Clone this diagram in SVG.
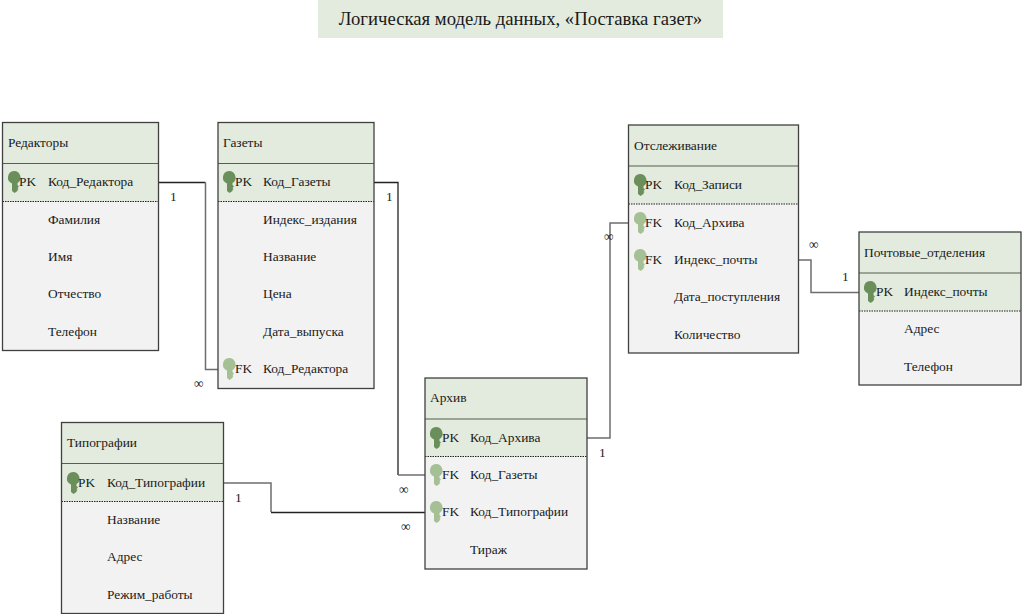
<svg xmlns="http://www.w3.org/2000/svg" width="1022" height="614" viewBox="0 0 1022 614">
<style>
text{font-family:"Liberation Serif","Times New Roman",serif;font-size:13.4px;fill:#1a1a1a}
.title{font-size:18.700px;text-anchor:middle}
.sym{font-size:13.500px}
.body{fill:#f2f2f2}
.band{fill:#e2ebdd}
.frame{fill:none;stroke:#404040;stroke-width:1.300}
.hl{stroke:#55604f;stroke-width:1.200}
.hl2{stroke:#b4bcae;stroke-width:1.200}
.dash{stroke:#222;stroke-width:1;stroke-dasharray:1.500 1}
.c{fill:none;stroke:#222;stroke-width:1.300}
.c2{fill:none;stroke:#6e6e6e;stroke-width:1.500}
.pk{fill:#6b8f5a}
.fk{fill:#a5c094}
</style>
<defs>
<path id="key" d="M0 0a6.500 6.500 0 0 1 3.500 12v2l1.500 1.500-1.500 1.500 1 1-1 1v1l-3 2-2.500-2v-7.500a6.500 6.500 0 0 1 2-12.500z"/>
</defs>
<rect id="title-bg" x="318" y="0" width="405" height="38" fill="#e2ebdd"/>
<text class="title" x="520.500" y="25">Логическая модель данных, «Поставка газет»</text>

<g id="connectors">
<path class="c" d="M158.500 182.500H205.500"/><path class="c2" d="M205.500 182.500V369.500H218"/>
<path class="c" d="M374 182.500H398V475"/><path class="c2" d="M398 475H425"/>
<path class="c2" d="M223 483H271V512"/><path class="c" d="M271 512.500H425"/>
<path class="c2" d="M587 438H610V223H628.500"/>
<path class="c2" d="M798.500 260H811V292.500H859"/>
<text x="170" y="201">1</text>
<text class="sym" x="194" y="388">∞</text>
<text x="386" y="201">1</text>
<text class="sym" x="399" y="494">∞</text>
<text x="235" y="502">1</text>
<text class="sym" x="401" y="531">∞</text>
<text x="599" y="457">1</text>
<text class="sym" x="604" y="241">∞</text>
<text class="sym" x="809" y="249">∞</text>
<text x="842" y="281">1</text>
</g>

<g id="node-redaktory">
<rect class="body" x="2.500" y="122.500" width="156" height="228"/>
<rect class="band" x="2.500" y="122.500" width="156" height="79"/>
<line class="hl" x1="2.500" y1="163.500" x2="158.500" y2="163.500"/>
<line class="dash" x1="2.500" y1="201.500" x2="158.500" y2="201.500"/>
<rect class="frame" x="2.500" y="122.500" width="156" height="228"/>
<text x="8" y="147">Редакторы</text>
<use href="#key" class="pk" x="14" y="171"/>
<text x="19" y="186">PK</text>
<text x="48" y="186">Код_Редактора</text>
<text x="48" y="224">Фамилия</text>
<text x="48" y="261">Имя</text>
<text x="48" y="298">Отчество</text>
<text x="48" y="336">Телефон</text>
</g>

<g id="node-gazety">
<rect class="body" x="218" y="122.500" width="156" height="266"/>
<rect class="band" x="218" y="122.500" width="156" height="79"/>
<line class="hl" x1="218" y1="163.500" x2="374" y2="163.500"/>
<line class="dash" x1="218" y1="201.500" x2="374" y2="201.500"/>
<rect class="frame" x="218" y="122.500" width="156" height="266"/>
<text x="223" y="147">Газеты</text>
<use href="#key" class="pk" x="229" y="171"/>
<text x="235" y="186">PK</text>
<text x="263" y="186">Код_Газеты</text>
<text x="263" y="224">Индекс_издания</text>
<text x="263" y="261">Название</text>
<text x="263" y="298">Цена</text>
<text x="263" y="336">Дата_выпуска</text>
<use href="#key" class="fk" x="229" y="358"/>
<text x="235" y="373">FK</text>
<text x="263" y="373">Код_Редактора</text>
</g>

<g id="node-tipografii">
<rect class="body" x="61.500" y="422.500" width="162" height="191"/>
<rect class="band" x="61.500" y="422.500" width="162" height="79"/>
<line class="hl" x1="61.500" y1="463.500" x2="223.500" y2="463.500"/>
<line class="dash" x1="61.500" y1="501.500" x2="223.500" y2="501.500"/>
<rect class="frame" x="61.500" y="422.500" width="162" height="191"/>
<text x="67" y="447">Типографии</text>
<use href="#key" class="pk" x="73" y="472"/>
<text x="78" y="487">PK</text>
<text x="107" y="487">Код_Типографии</text>
<text x="107" y="524">Название</text>
<text x="107" y="561">Адрес</text>
<text x="107" y="599">Режим_работы</text>
</g>

<g id="node-arhiv">
<rect class="body" x="425" y="378" width="162" height="191"/>
<rect class="band" x="425" y="378" width="162" height="78.500"/>
<line class="hl" x1="425" y1="419" x2="587" y2="419"/>
<line class="dash" x1="425" y1="456.500" x2="587" y2="456.500"/>
<rect class="frame" x="425" y="378" width="162" height="191"/>
<text x="430" y="402">Архив</text>
<use href="#key" class="pk" x="436" y="427"/>
<text x="442" y="442">PK</text>
<text x="470" y="442">Код_Архива</text>
<use href="#key" class="fk" x="436" y="464"/>
<text x="442" y="479">FK</text>
<text x="470" y="479">Код_Газеты</text>
<use href="#key" class="fk" x="436" y="501"/>
<text x="442" y="516">FK</text>
<text x="470" y="516">Код_Типографии</text>
<text x="470" y="554">Тираж</text>
</g>

<g id="node-otslezhivanie">
<rect class="body" x="628.500" y="125" width="170" height="228"/>
<rect class="band" x="628.500" y="125" width="170" height="79"/>
<line class="hl" x1="628.500" y1="166" x2="798.500" y2="166"/>
<line class="dash" x1="628.500" y1="204" x2="798.500" y2="204"/>
<rect class="frame" x="628.500" y="125" width="170" height="228"/>
<text x="634" y="150">Отслеживание</text>
<use href="#key" class="pk" x="640" y="174"/>
<text x="645" y="189">PK</text>
<text x="674" y="189">Код_Записи</text>
<use href="#key" class="fk" x="640" y="212"/>
<text x="645" y="227">FK</text>
<text x="674" y="227">Код_Архива</text>
<use href="#key" class="fk" x="640" y="249"/>
<text x="645" y="264">FK</text>
<text x="674" y="264">Индекс_почты</text>
<text x="674" y="301">Дата_поступления</text>
<text x="674" y="339">Количество</text>
</g>

<g id="node-pochtovye">
<rect class="body" x="859" y="232" width="162" height="153"/>
<rect class="band" x="859" y="232" width="162" height="79"/>
<line class="hl" x1="859" y1="273" x2="1021" y2="273"/>
<line class="dash" x1="859" y1="311" x2="1021" y2="311"/>
<rect class="frame" x="859" y="232" width="162" height="153"/>
<text x="864" y="257">Почтовые_отделения</text>
<use href="#key" class="pk" x="870" y="281"/>
<text x="876" y="296">PK</text>
<text x="904" y="296">Индекс_почты</text>
<text x="904" y="333">Адрес</text>
<text x="904" y="371">Телефон</text>
</g>
</svg>
